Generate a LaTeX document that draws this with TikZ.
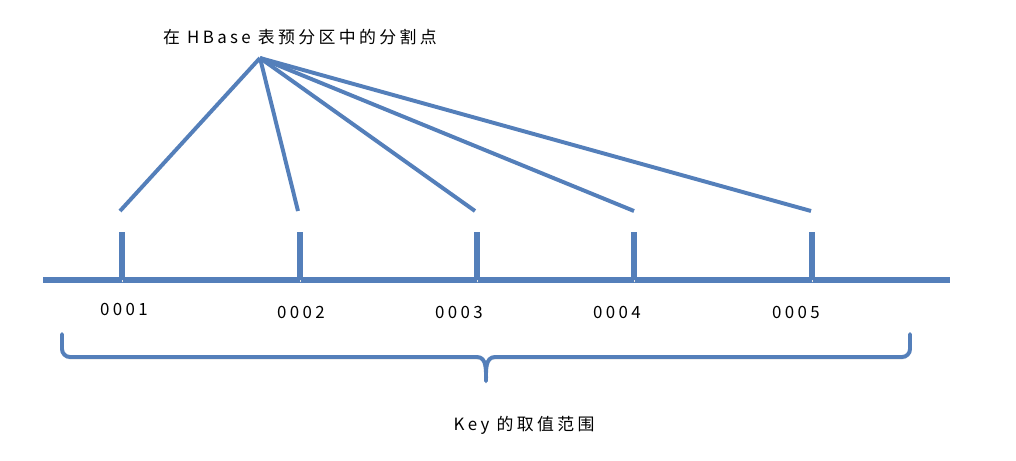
\documentclass[tikz,border=0pt]{standalone}
\usepackage{fontspec}
\newfontfamily\cjk[LetterSpace=20]{Noto Sans CJK SC}
\definecolor{HBlue}{RGB}{84, 127, 186}
\usetikzlibrary{positioning, calc}

\begin{document}
\begin{tikzpicture}[
        x=0.025cm, y=-0.025cm,
        shadowed/.style={preaction={draw=black!10, transform canvas={yshift=-1.6pt}}},
        axis/.style={draw=HBlue, line width=3.6pt, shadowed},
        tick/.style={draw=HBlue, line width=3.6pt, shadowed},
        fan/.style={draw=HBlue, line width=2.8pt},
        brace/.style={draw=HBlue, line width=2.8pt, line cap=round, shadowed},
        lbl/.style={font=\cjk\fontsize{12}{14}\selectfont, inner sep=0pt}
    ]
        \useasboundingbox (0,0) rectangle (1016,460);

        % Title and apex
        \node[lbl] (title) at (300,37) {在 HBase 表预分区中的分割点};
        \coordinate (apex) at (260,58);

        % Axis
        \coordinate (left) at (43,280);
        \coordinate (right) at (950,280);
        \draw[axis] (left) -- (right);

        % Ticks
        \coordinate (k1) at (122,280); \coordinate (k1top) at (122,232);
        \coordinate (k2) at (300,280); \coordinate (k2top) at (300,232);
        \coordinate (k3) at (477,280); \coordinate (k3top) at (477,232);
        \coordinate (k4) at (634,280); \coordinate (k4top) at (634,232);
        \coordinate (k5) at (812,280); \coordinate (k5top) at (812,232);
        \draw[tick] (k1) -- (k1top);
        \draw[tick] (k2) -- (k2top);
        \draw[tick] (k3) -- (k3top);
        \draw[tick] (k4) -- (k4top);
        \draw[tick] (k5) -- (k5top);

        % Split point labels
        \node[lbl] (p1) at (124,309) {0001};
        \node[lbl] (p2) at (301,312) {0002};
        \node[lbl] (p3) at (459,312) {0003};
        \node[lbl] (p4) at (617,312) {0004};
        \node[lbl] (p5) at (796,312) {0005};

        % Fan lines
        \coordinate (f1) at (120,211);
        \coordinate (f2) at (298,211);
        \coordinate (f3) at (475,211);
        \coordinate (f4) at (634,211);
        \coordinate (f5) at (811,211);
        \draw[fan] (apex) -- (f1);
        \draw[fan] (apex) -- (f2);
        \draw[fan] (apex) -- (f3);
        \draw[fan] (apex) -- (f4);
        \draw[fan] (apex) -- (f5);

        % Brace
        \coordinate (bl) at (62,334);
        \coordinate (br) at (910,334);
        \coordinate (tip) at (486,381);
        \draw[brace] (bl) -- (62,349) to[out=-90, in=180] (70,357) -- (477,357)
            to[out=0, in=90] (tip);
        \draw[brace] (tip) to[out=90, in=180] (495,357) -- (902,357)
            to[out=0, in=-90] (910,349) -- (br);

        % Range label
        \node[lbl] (range) at (524,425) {Key 的取值范围};
    \end{tikzpicture}
\end{document}
